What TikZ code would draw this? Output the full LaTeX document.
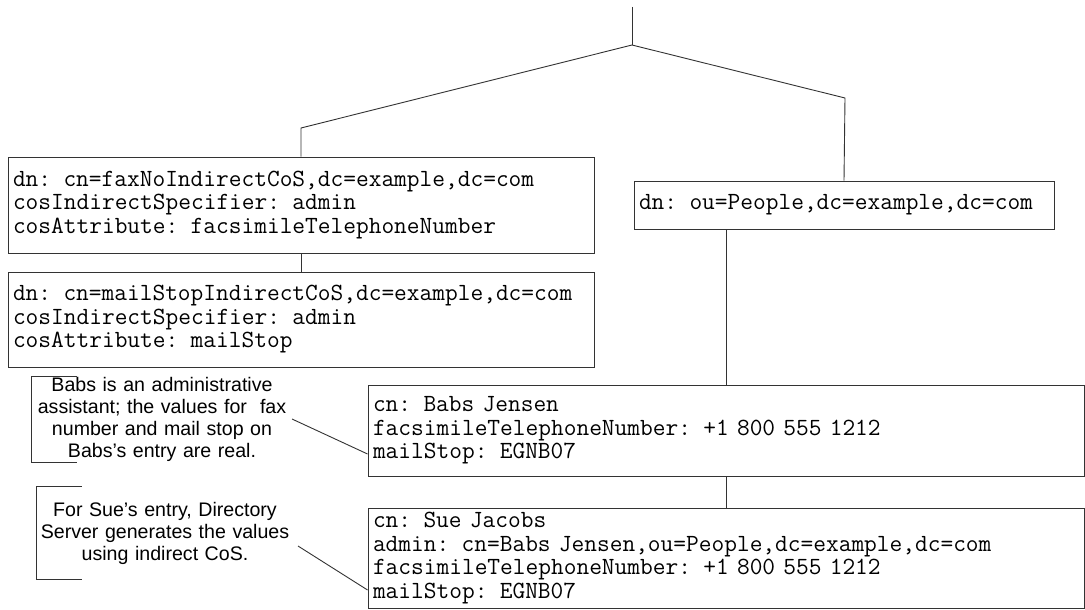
\documentclass[tikz,border=0pt]{standalone}
\usepackage{fontspec}
\setmainfont{Liberation Sans}
\begin{document}
\begin{tikzpicture}[x=1pt,y=-1pt,
  entrybox/.style={draw=black!80, line width=0.9pt, rectangle, inner xsep=5pt, inner ysep=0pt,
    font=\fontsize{24.7}{23.5}\selectfont\ttfamily, align=left, text width=#1},
  note/.style={inner sep=0pt, align=center, font=\fontsize{19.6}{22}\selectfont},
  wire/.style={line width=0.9pt, draw=black!80}]
\useasboundingbox[fill=white] (0,0) rectangle (1085,610);

\node[entrybox=576pt, minimum height=96pt] (fax) at (301,205)
  {dn: cn=faxNoIndirectCoS,dc=example,dc=com\\cosIndirectSpecifier: admin\\cosAttribute: facsimileTelephoneNumber};
\node[entrybox=576pt, minimum height=95pt] (mail) at (301,319.5)
  {dn: cn=mailStopIndirectCoS,dc=example,dc=com\\cosIndirectSpecifier: admin\\cosAttribute: mailStop};
\node[entrybox=410pt, minimum height=48pt] (people) at (844,205)
  {dn: ou=People,dc=example,dc=com};
\node[entrybox=706pt, minimum height=91pt] (babs) at (726,430.5)
  {cn: Babs Jensen\\facsimileTelephoneNumber: +1 800 555 1212\\mailStop: EGNB07};
\node[entrybox=706pt, minimum height=100pt] (sue) at (726,558)
  {cn: Sue Jacobs\\admin: cn=Babs Jensen,ou=People,dc=example,dc=com\\facsimileTelephoneNumber: +1 800 555 1212\\mailStop: EGNB07};

\node[note, text width=260pt, minimum height=86pt] (n1) at (162,419.5)
  {Babs is an administrative\\assistant; the values for\ \ fax\\number and mail stop on\\Babs’s entry are real.};
\node[note, text width=256pt, minimum height=92pt] (n2) at (165,533)
  {For Sue’s entry, Directory\\Server generates the values\\using indirect CoS.};

\coordinate (root) at (632,7);
\coordinate (split) at (632,45);
\coordinate (lbend) at (301,128);
\coordinate (rbend) at (845,98);
\coordinate (c1) at (292,419);
\coordinate (c2) at (298,546);

\draw[wire] (root) -- (split);
\draw[wire] (split) -- (lbend) -- (fax.north);
\draw[wire] (split) -- (rbend) -- (people.north);
\draw[wire] (fax.south) -- (mail.north);
\draw[wire] (babs.north) -- (babs.north |- people.south);
\draw[wire] (babs.south) -- (sue.north);

\draw[wire] ([xshift=45pt]n1.north west) -- (n1.north west) -- (n1.south west) -- ++(45,0);
\draw[wire] ([xshift=45pt]n2.north west) -- (n2.north west) -- (n2.south west) -- ++(45,0);
\draw[wire] (c1) -- (babs.west |- 0,454);
\draw[wire] (c2) -- (sue.west |- 0,590);
\end{tikzpicture}
\end{document}
